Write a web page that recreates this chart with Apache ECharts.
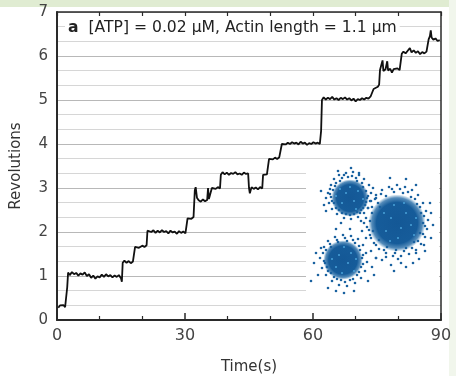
<!DOCTYPE html>
<html>
<head>
<meta charset="utf-8">
<script src="https://cdn.jsdelivr.net/npm/echarts@6/dist/echarts.min.js"></script>
<style>html,body{margin:0;padding:0;background:#fff}#c{width:456px;height:376px}</style>
</head>
<body>
<div id="c"></div>
<script>
// Main trace: [time (s), revolutions]
const trace = [
[0.3,0.28],[0.7,0.33],[1.1,0.30],[1.5,0.34],[1.9,0.29],[2.2,0.31],
[2.4,0.75],[2.6,1.08],
[3.0,1.02],[3.5,1.09],[4.0,1.04],[4.5,1.07],[5.0,1.01],[5.5,1.06],[6.0,1.03],[6.5,1.08],[7.0,1.00],[7.5,1.04],[8.0,0.96],[8.5,1.01],[9.0,0.94],[9.5,0.99],[10.0,0.97],[10.5,1.03],[11.0,0.98],[11.5,1.04],[12.0,0.99],[12.5,1.02],[13.0,0.97],[13.5,1.01],[14.0,0.98],[14.5,1.02],[15.0,0.95],[15.2,0.87],
[15.4,1.30],
[15.8,1.35],[16.3,1.30],[16.8,1.34],[17.3,1.29],[17.8,1.33],[18.1,1.31],
[18.3,1.66],
[18.7,1.70],[19.2,1.64],[19.6,1.60],[20.0,1.69],[20.5,1.66],[21.0,1.70],
[21.2,2.03],
[21.6,2.07],[22.1,2.00],[22.6,2.04],[23.1,1.98],[23.6,2.03],[24.1,1.99],[24.6,2.04],[25.1,2.00],[25.6,2.02],[26.1,1.97],[26.6,2.03],[27.1,1.99],[27.6,2.01],[28.1,1.96],[28.6,2.02],[29.1,1.98],[29.6,2.01],[30.1,1.97],[30.4,2.00],
[30.6,2.31],
[31.0,2.35],[31.5,2.30],[32.0,2.34],
[32.3,2.95],[32.5,3.02],
[32.8,2.78],[33.2,2.72],[33.7,2.69],[34.2,2.74],[34.7,2.70],[35.2,2.73],
[35.4,3.00],[35.6,2.75],[36.0,2.73],[36.3,3.00],
[36.7,3.03],[37.2,2.98],[37.7,3.02],[38.2,2.99],
[38.4,3.30],
[38.8,3.36],[39.3,3.31],[39.8,3.35],[40.3,3.30],[40.8,3.34],[41.3,3.32],[41.8,3.36],[42.3,3.31],[42.8,3.33],[43.3,3.30],[43.8,3.35],[44.3,3.32],[44.8,3.33],
[45.0,3.00],[45.2,2.88],
[45.6,3.02],[46.1,2.98],[46.6,3.01],[47.1,2.97],[47.6,3.02],[48.1,2.99],
[48.3,3.30],
[48.7,3.34],[49.2,3.31],[49.5,3.33],
[49.7,3.66],
[50.1,3.70],[50.6,3.65],[51.1,3.69],[51.6,3.66],[52.1,3.70],[52.5,3.67],
[52.7,4.00],
[53.1,4.04],[53.6,3.99],[54.1,4.03],[54.6,4.00],[55.1,4.04],[55.6,4.01],[56.1,4.03],[56.6,3.99],[57.1,4.05],[57.6,4.01],[58.1,4.03],[58.6,3.98],[59.1,4.02],[59.6,4.00],[60.1,4.04],[60.6,4.01],[61.1,4.03],[61.6,4.00],
[61.9,4.30],[62.1,5.00],
[62.5,5.06],[63.0,5.01],[63.5,5.05],[64.0,5.02],[64.5,5.07],[65.0,5.01],[65.5,5.04],[66.0,5.00],[66.5,5.05],[67.0,5.02],[67.5,5.06],[68.0,5.01],[68.5,5.04],[69.0,4.99],[69.5,5.03],[70.0,4.97],[70.5,5.02],[71.0,5.00],[71.5,5.04],[72.0,5.01],[72.5,5.05],[73.0,5.03],[73.5,5.08],[73.9,5.10],
[74.2,5.25],[74.6,5.28],[75.2,5.30],[75.5,5.35],
[75.7,5.68],[76.0,5.72],[76.3,5.90],[76.5,5.66],[77.0,5.70],[77.4,5.88],[77.6,5.67],[78.1,5.71],[78.5,5.62],[78.9,5.70],[79.3,5.66],[79.8,5.72],[80.3,5.68],[80.6,5.70],
[80.8,6.05],
[81.2,6.10],[81.7,6.06],[82.2,6.12],[82.7,6.18],[83.1,6.08],[83.6,6.13],[84.1,6.07],[84.6,6.11],[85.1,6.04],[85.6,6.09],[86.1,6.06],[86.6,6.10],[86.9,6.08],
[87.1,6.38],[87.4,6.45],[87.6,6.58],[87.8,6.42],[88.2,6.37],[88.7,6.40],[89.2,6.34],[89.7,6.36]
];

const xTicks = [0, 30, 60, 90];
const yTicks = [0, 1, 2, 3, 4, 5, 6, 7];

// Inset scatter (inset units): cluster cores [x, y, radius]
const clusterCores = [[44,35,17],[91,60,26],[37,97,18]];
// Inset scatter dots
const insetDots = [
[22,30],[25,22],[28,16],[33,12],[40,10],[47,9],[53,12],[58,16],[63,22],[65,30],[64,38],[62,45],[58,50],[52,54],[45,56],[38,55],[31,51],[26,46],[23,40],[20,35],[18,42],[27,27],[30,20],[36,15],[50,15],[56,20],[60,28],[61,35],[59,42],[55,47],[48,51],[40,51],[33,47],[28,40],[25,34],[67,25],[15,28],[20,48],[35,60],[55,58],[70,35],[45,5],[32,8],
[24,26],[29,23],[34,18],[42,14],[51,18],[57,24],[62,33],[60,39],[57,45],[51,49],[44,52],[36,50],[30,45],[26,38],[24,31],[38,12],[46,13],[53,10],
[60,55],[62,45],[65,38],[70,32],[76,27],[83,24],[91,22],[99,24],[106,27],[112,32],[117,40],[120,48],[122,57],[121,66],[119,74],[115,81],[110,87],[103,91],[95,93],[87,93],[80,90],[73,86],[68,80],[64,72],[61,64],[58,60],[66,50],[72,40],[80,33],[88,29],[97,30],[105,34],[111,41],[115,50],[117,60],[114,70],[108,79],[100,85],[90,87],[81,84],[73,77],[67,68],[125,50],[127,62],[125,75],[119,88],[95,100],[85,102],[76,97],[70,95],[88,108],[100,104],[107,100],[113,96],[56,68],[54,50],[84,15],[100,16],[124,40],[110,22],
[64,58],[66,44],[69,36],[75,31],[86,26],[94,26],[102,29],[109,36],[114,44],[118,53],[119,63],[117,71],[112,78],[106,85],[98,88],[89,90],[78,87],[70,82],[65,75],[63,67],[74,44],[110,90],[118,82],[92,96],[80,94],
[15,85],[14,95],[16,105],[20,112],[26,118],[33,122],[41,123],[49,120],[55,115],[59,108],[61,99],[60,90],[57,82],[52,76],[45,73],[37,72],[29,74],[22,78],[18,84],[19,100],[22,108],[28,114],[35,117],[44,117],[51,112],[55,104],[56,95],[54,87],[49,80],[41,78],[32,79],[25,84],[10,90],[8,100],[12,112],[30,128],[48,128],[62,118],[66,104],[65,88],[60,75],[44,66],[30,66],[5,118],[22,125],[38,130],[70,95],[68,112],
[17,90],[18,98],[21,104],[25,110],[31,116],[39,119],[47,116],[53,109],[57,101],[57,92],[53,83],[47,77],[39,75],[31,77],[24,81],[20,87]
];
const insetSpecks = [
[40,30],[48,38],[36,40],[52,28],[30,33],[57,36],[44,24],[34,26],[50,46],
[85,55],[95,65],[100,50],[80,68],[92,75],[105,62],[78,50],[88,42],[108,72],[98,40],[84,78],[110,55],
[33,92],[42,100],[30,104],[45,90],[26,96],[48,108],[38,84],[36,110],[50,96]
];

const chart = echarts.init(document.getElementById('c'), null, {renderer: 'canvas'});
const font = 'DejaVu Sans, Verdana, sans-serif';
chart.setOption({
  backgroundColor: '#fff',
  animation: false,
  textStyle: {fontFamily: font},
  graphic: [
    {type: 'rect', shape: {x: 0, y: 0, width: 456, height: 7}, style: {fill: '#e0ecd2'}, silent: true},
    {type: 'rect', shape: {x: 449, y: 0, width: 7, height: 376}, style: {fill: '#f1f6ec'}, silent: true}
  ],
  title: {
    left: 65, top: 19,
    text: '{b|a}  [ATP] = 0.02 μM, Actin length = 1.1 μm',
    backgroundColor: '#fff',
    padding: [1, 3],
    textStyle: {
      fontSize: 15.6, color: '#222', fontWeight: 'normal', fontFamily: font,
      rich: {b: {fontWeight: 'bold', fontSize: 15.6, color: '#222', fontFamily: font}}
    }
  },
  grid: [
    {left: 57, right: 15, top: 12, bottom: 56, show: false, containLabel: false, outerBoundsMode: 'none'},
    {left: 306, top: 163, width: 133, height: 137, show: true, backgroundColor: '#fff', borderWidth: 0, z: 1, containLabel: false, outerBoundsMode: 'none'}
  ],
  xAxis: [
    {
      gridIndex: 0, type: 'value', min: 0, max: 90, interval: 30,
      axisLine: {show: true, onZero: false, lineStyle: {color: '#2a2a2a', width: 2}},
      axisTick: {show: true, inside: true, length: 7, lineStyle: {color: '#2a2a2a', width: 1.5}},
      minorTick: {show: true, splitNumber: 3, length: 4, lineStyle: {color: '#2a2a2a', width: 1.2}},
      splitLine: {show: false},
      axisLabel: {fontSize: 16, color: '#444', margin: 8, fontFamily: font,
        formatter: v => xTicks.includes(v) ? String(v) : ''},
      name: 'Time(s)', nameLocation: 'middle', nameGap: 40,
      nameTextStyle: {fontSize: 15, color: '#333', fontFamily: font}
    },
    {
      gridIndex: 0, type: 'value', min: 0, max: 90, interval: 10, position: 'top',
      axisLine: {show: true, onZero: false, lineStyle: {color: '#2a2a2a', width: 1.5}},
      axisTick: {show: true, inside: true, length: 4, lineStyle: {color: '#2a2a2a', width: 1.2}},
      axisLabel: {show: false}, splitLine: {show: false}
    },
    {gridIndex: 1, type: 'value', min: 0, max: 133, show: false}
  ],
  yAxis: [
    {
      gridIndex: 0, type: 'value', min: 0, max: 7, interval: 1,
      axisLine: {show: true, onZero: false, lineStyle: {color: '#2a2a2a', width: 2}},
      axisTick: {show: false},
      minorTick: {show: false, splitNumber: 3},
      splitLine: {show: true, lineStyle: {color: '#b8b8b8', width: 1}},
      minorSplitLine: {show: true, lineStyle: {color: '#d6d6d6', width: 1}},
      axisLabel: {fontSize: 15, color: '#444', margin: 9, fontFamily: font,
        formatter: v => yTicks.includes(v) ? String(v) : ''},
      name: 'Revolutions', nameLocation: 'middle', nameGap: 33, nameRotate: 90,
      nameTextStyle: {fontSize: 15, color: '#333', fontFamily: font}
    },
    {
      gridIndex: 0, type: 'value', min: 0, max: 7, position: 'right',
      axisLine: {show: true, onZero: false, lineStyle: {color: '#2a2a2a', width: 1.5}},
      axisTick: {show: false}, axisLabel: {show: false}, splitLine: {show: false}
    },
    {gridIndex: 1, type: 'value', min: 0, max: 137, inverse: true, show: false}
  ],
  series: [
    {
      type: 'line', xAxisIndex: 0, yAxisIndex: 0, data: trace,
      symbol: 'none', lineStyle: {color: '#111', width: 1.8}, z: 3
    },
    {
      type: 'scatter', xAxisIndex: 2, yAxisIndex: 2, data: clusterCores,
      symbolSize: v => v[2] * 2.2, z: 4,
      itemStyle: {
        opacity: 1,
        color: {
          type: 'radial', x: 0.5, y: 0.5, r: 0.5,
          colorStops: [
            {offset: 0, color: 'rgba(20,88,150,1)'},
            {offset: 0.72, color: 'rgba(22,92,154,1)'},
            {offset: 0.88, color: 'rgba(26,100,162,0.75)'},
            {offset: 1, color: 'rgba(30,110,170,0)'}
          ]
        }
      }
    },
    {
      type: 'scatter', xAxisIndex: 2, yAxisIndex: 2, data: insetDots,
      symbolSize: 2.6, z: 5, itemStyle: {color: '#1a62a0', opacity: 1}
    },
    {
      type: 'scatter', xAxisIndex: 2, yAxisIndex: 2, data: insetSpecks,
      symbolSize: 2, z: 6, itemStyle: {color: '#4aa2d8', opacity: 1}
    }
  ]
});
</script>
</body>
</html>
